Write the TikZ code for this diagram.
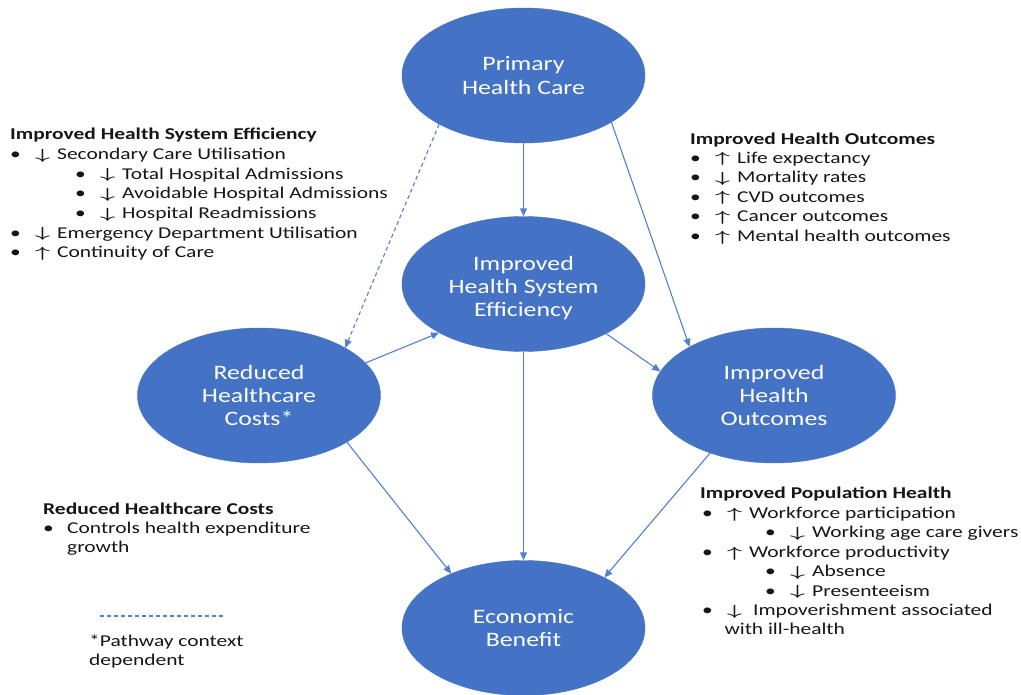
\documentclass[tikz,border=0pt]{standalone}
\usepackage{fontspec}
\setmainfont{Carlito}[FakeStretch=1.30]
\newfontfamily\ovalfont{Carlito}[FakeStretch=1.26]
\usetikzlibrary{shapes.geometric,arrows.meta}

\definecolor{ovalblue}{RGB}{68,114,196}
\definecolor{linkblue}{RGB}{82,128,208}
\definecolor{inktext}{RGB}{22,22,22}

% thin arrows used inside the bullet lists
\newcommand{\dnmark}{\raisebox{0.3pt}{\scalebox{1.5}[0.85]{\boldmath$\downarrow$}}}
\newcommand{\upmark}{\raisebox{0.3pt}{\scalebox{1.5}[0.85]{\boldmath$\uparrow$}}}
% one bullet line: bullet, trend arrow, text
\newcommand{\trendline}[2]{\makebox[25pt][l]{\textbullet}\makebox[22pt][l]{#1}#2}

\tikzset{
  oval/.style={ellipse, fill=ovalblue, draw=ovalblue, minimum width=243pt,
    minimum height=135pt, inner sep=0pt, align=center, text=white,
    font=\ovalfont\fontsize{20.5}{23.3}\selectfont},
  link/.style={draw=linkblue, line width=1.1pt,
    -{Triangle[length=8pt,width=7pt]}},
  maybelink/.style={link, dash pattern=on 4pt off 3pt},
  bodytxt/.style={anchor=base west, inner sep=0pt, text=inktext,
    font=\fontsize{16.5}{19.7}\selectfont},
  headtxt/.style={bodytxt, font=\fontsize{16.5}{19.7}\selectfont\bfseries},
}

\begin{document}
\begin{tikzpicture}[x=1pt,y=-1pt]
\useasboundingbox (0,0) rectangle (1021,695);

% pathway nodes
\node[oval] (phc)  at (523.5,75.5) {Primary\\Health Care};
\node[oval] (ihse) at (523.5,284)  {\raisebox{-5pt}[\height][\depth]{\begin{tabular}{@{}c@{}}Improved\\Health System\\Efficiency\end{tabular}}};
\node[oval] (rhc)  at (259,395.5)  {Reduced\\Healthcare\\Costs*};
\node[oval] (iho)  at (774,395.5)  {Improved\\Health\\Outcomes};
\node[oval] (eb)   at (523.5,628)  {Economic\\Benefit};

% pathways
\draw[link] (phc.south) -- (ihse.north);
\draw[link] (phc.-28.9) -- (iho.150.6);
\draw[maybelink] (phc.210.4) -- (rhc.29.6);
\draw[link] (rhc.17.5) -- (ihse.210.7);
\draw[link] (ihse.-31.4) -- (iho.168.5);
\draw[link] (ihse.south) -- (eb.north);
\draw[link] (rhc.-28.9) -- (eb.143.4);
\draw[link] (iho.222.2) -- (eb.32.1);

% efficiency list
\node[headtxt] (effh) at (10,140) {Improved Health System Efficiency};
\node[bodytxt] (eff1) at (10,159.5) {\trendline{\dnmark}{Secondary Care Utilisation}};
\node[bodytxt] (eff2) at (75,179.2) {\trendline{\dnmark}{Total Hospital Admissions}};
\node[bodytxt] (eff3) at (75,198.9) {\trendline{\dnmark}{Avoidable Hospital Admissions}};
\node[bodytxt] (eff4) at (75,218.6) {\trendline{\dnmark}{Hospital Readmissions}};
\node[bodytxt] (eff5) at (10,238.3) {\trendline{\dnmark}{Emergency Department Utilisation}};
\node[bodytxt] (eff6) at (10,258)   {\trendline{\upmark}{Continuity of Care}};

% outcomes list
\node[headtxt] (outh) at (690,145) {Improved Health Outcomes};
\node[bodytxt] (out1) at (690,163.3) {\trendline{\upmark}{Life expectancy}};
\node[bodytxt] (out2) at (690,182.8) {\trendline{\dnmark}{Mortality rates}};
\node[bodytxt] (out3) at (690,202.3) {\trendline{\upmark}{CVD outcomes}};
\node[bodytxt] (out4) at (690,221.8) {\trendline{\upmark}{Cancer outcomes}};
\node[bodytxt] (out5) at (690,241.5) {\trendline{\upmark}{Mental health outcomes}};

% population health list
\node[headtxt] (poph) at (700,498.3) {Improved Population Health};
\node[bodytxt] (pop1) at (702,518.3) {\trendline{\upmark}{Workforce participation}};
\node[bodytxt] (pop2) at (765,537.7) {\trendline{\dnmark}{Working age care givers}};
\node[bodytxt] (pop3) at (702,557.4) {\trendline{\upmark}{Workforce productivity}};
\node[bodytxt] (pop4) at (765,576.9) {\trendline{\dnmark}{Absence}};
\node[bodytxt] (pop5) at (765,596.2) {\trendline{\dnmark}{Presenteeism}};
\node[bodytxt] (pop6) at (702,615.5) {\trendline{\dnmark}{\hspace{4pt}Impoverishment associated}};
\node[bodytxt] (pop7) at (724.3,634.8) {with ill-health};

% cost list
\node[headtxt] (costh) at (43,514) {Reduced Healthcare Costs};
\node[bodytxt] (cost1) at (43,533.3) {\makebox[24pt][l]{\textbullet}Controls health expenditure};
\node[bodytxt] (cost2) at (67,552.7) {growth};

% key for the dashed pathway
\coordinate (keyA) at (100,616);
\coordinate (keyB) at (225,616);
\draw[draw=linkblue, line width=1.1pt, dash pattern=on 4pt off 3pt] (keyA) -- (keyB);
\node[bodytxt] (key1) at (89,646.7) {*Pathway context};
\node[bodytxt] (key2) at (89,665.5) {dependent};
\end{tikzpicture}
\end{document}
